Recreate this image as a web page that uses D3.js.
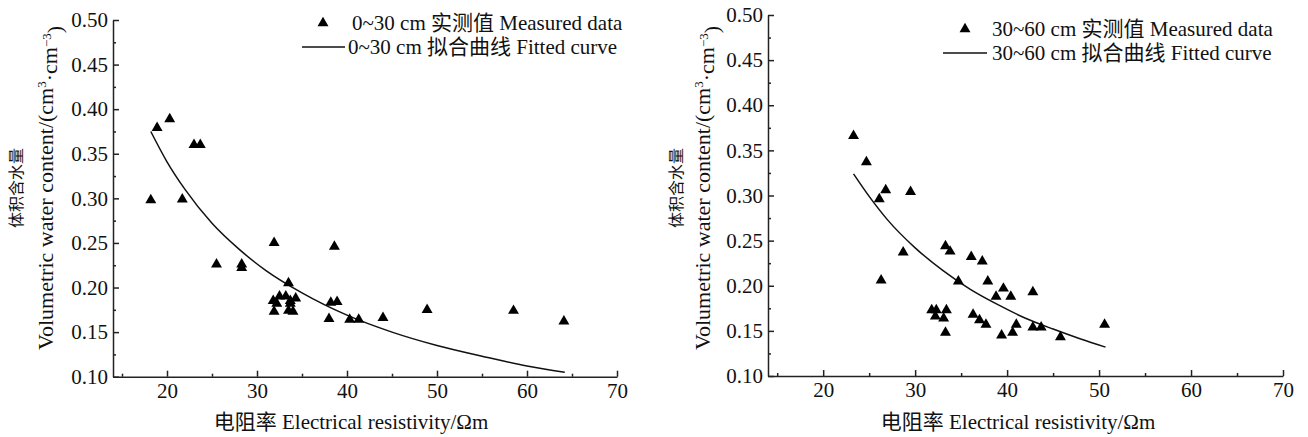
<!DOCTYPE html>
<html><head><meta charset="utf-8">
<script src="https://cdn.jsdelivr.net/npm/d3@7"></script>
<style>
body{margin:0;background:#fff}
svg{display:block}
text{font-family:"Liberation Serif","Times New Roman","Noto Sans CJK SC",serif;fill:#111}
</style></head>
<body><svg id="c" width="1308" height="437"></svg>
<script>
// ---- data ----
const xTicks = [20, 30, 40, 50, 60, 70];
const xMinorTicks = [15, 25, 35, 45, 55, 65];
const yTicks = [0.10, 0.15, 0.20, 0.25, 0.30, 0.35, 0.40, 0.45, 0.50];
const yMinorTicks = [0.125, 0.175, 0.225, 0.275, 0.325, 0.375, 0.425, 0.475];

// 0~30 cm measured
const m1X = [18.2, 18.9, 20.3, 23.0, 23.7, 21.7, 25.5, 28.3, 28.3, 31.9, 38.6, 33.5,
             31.8, 32.2, 32.5, 33.2, 33.7, 34.3, 31.9, 33.5, 34.0, 33.7,
             38.0, 38.2, 38.9, 40.3, 41.3, 44.0, 48.9, 58.5, 64.1];
const m1Y = [0.298, 0.379, 0.389, 0.360, 0.360, 0.299, 0.226, 0.226, 0.222, 0.250, 0.246, 0.205,
             0.185, 0.182, 0.190, 0.190, 0.185, 0.188, 0.173, 0.174, 0.173, 0.182,
             0.165, 0.183, 0.184, 0.164, 0.164, 0.166, 0.175, 0.174, 0.162];
// 0~30 cm fitted curve
const f1X = [18.2, 20, 22, 25, 28, 31, 35, 40, 45, 50, 55, 60, 64.2];
const f1Y = [0.375, 0.341, 0.310, 0.272, 0.243, 0.219, 0.194, 0.169, 0.150, 0.135, 0.123, 0.112, 0.105];

// 30~60 cm measured
const m2X = [23.3, 24.7, 26.8, 26.1, 29.5, 28.7, 26.3, 33.3, 33.8, 36.1, 37.3, 34.7, 37.9,
             39.6, 38.8, 40.4, 42.8, 31.8, 32.3, 33.4, 32.2, 33.1, 33.3, 36.3, 37.0, 37.7,
             39.4, 40.6, 41.0, 42.8, 43.7, 45.8, 50.6];
const m2Y = [0.366, 0.337, 0.306, 0.296, 0.304, 0.237, 0.206, 0.244, 0.238, 0.232, 0.227, 0.205, 0.205,
             0.197, 0.188, 0.188, 0.193, 0.173, 0.173, 0.173, 0.166, 0.164, 0.148, 0.168, 0.162, 0.157,
             0.145, 0.148, 0.157, 0.154, 0.154, 0.143, 0.157];
// 30~60 cm fitted curve
const f2X = [23.3, 25, 27, 30, 33, 36, 39, 42, 45, 48, 50.7];
const f2Y = [0.324, 0.299, 0.273, 0.242, 0.217, 0.196, 0.179, 0.164, 0.152, 0.141, 0.132];

const legend1 = ["0~30 cm 实测值 Measured data", "0~30 cm 拟合曲线 Fitted curve"];
const legend2 = ["30~60 cm 实测值 Measured data", "30~60 cm 拟合曲线 Fitted curve"];
const yTitleCN = "体积含水量";
const xTitle = "电阻率 Electrical resistivity/Ωm";

// ---- drawing ----
const svg = d3.select("#c");
const FS = 21;
const FONT = '"Liberation Serif","Times New Roman","Noto Sans CJK SC",serif';
const axisColor = "#222";

function panel(cfg) {
  const g = svg.append("g");
  const x = d3.scaleLinear().domain([14, 70]).range([cfg.left, cfg.right]);
  const y = d3.scaleLinear().domain([0.10, 0.50]).range([cfg.bottom, cfg.top]);

  // minor ticks
  g.append("g").attr("transform", `translate(0,${cfg.bottom})`)
    .call(d3.axisBottom(x).tickValues(xMinorTicks).tickSizeInner(-3).tickSizeOuter(0).tickFormat(""))
    .call(s => s.select(".domain").remove());
  g.append("g").attr("transform", `translate(${cfg.left},0)`)
    .call(d3.axisLeft(y).tickValues(yMinorTicks).tickSizeInner(-3).tickSizeOuter(0).tickFormat(""))
    .call(s => s.select(".domain").remove());

  // major axes
  const xa = g.append("g").attr("transform", `translate(0,${cfg.bottom})`)
    .call(d3.axisBottom(x).tickValues(xTicks).tickSizeInner(-6).tickSizeOuter(0).tickPadding(6).tickFormat(d3.format("d")));
  const ya = g.append("g").attr("transform", `translate(${cfg.left},0)`)
    .call(d3.axisLeft(y).tickValues(yTicks).tickSizeInner(-6).tickSizeOuter(0).tickPadding(5).tickFormat(d3.format(".2f")));
  [xa, ya].forEach(a => {
    a.attr("font-family", FONT).attr("font-size", FS);
    a.selectAll("text").attr("font-size", FS).attr("font-family", FONT).attr("fill", "#111");
  });
  g.selectAll("line,path.domain").attr("stroke", axisColor).attr("stroke-width", 1.5);

  // fitted curve
  const line = d3.line().x(d => x(d[0])).y(d => y(d[1])).curve(d3.curveMonotoneX);
  g.append("path").datum(d3.zip(cfg.fX, cfg.fY)).attr("d", line)
    .attr("fill", "none").attr("stroke", "#111").attr("stroke-width", 1.5);

  // measured points
  const tri = d3.symbol().type(d3.symbolTriangle).size(52);
  g.selectAll(".pt").data(d3.zip(cfg.mX, cfg.mY)).join("path")
    .attr("transform", d => `translate(${x(d[0])},${y(d[1])})`)
    .attr("d", tri).attr("fill", "#000");

  // legend
  const L = cfg.legend;
  g.append("path").attr("transform", `translate(${L.triX},${L.row1})`).attr("d", tri).attr("fill", "#000");
  g.append("line").attr("x1", L.lineX1).attr("x2", L.lineX2).attr("y1", L.row2).attr("y2", L.row2)
    .attr("stroke", "#111").attr("stroke-width", 1.5);
  g.append("text").attr("x", L.text1X).attr("y", L.row1).attr("dy", "0.35em").attr("font-size", FS).text(cfg.legendText[0]);
  g.append("text").attr("x", L.text2X).attr("y", L.row2).attr("dy", "0.35em").attr("font-size", FS).text(cfg.legendText[1]);

  // y titles
  const cy = cfg.yTitleY;
  g.append("text").attr("transform", `translate(${cfg.yTitle1X},${cy}) rotate(-90)`)
    .attr("text-anchor", "middle").attr("dy", "0.35em").attr("font-size", 16).text(yTitleCN);
  const t2 = g.append("text").attr("transform", `translate(${cfg.yTitle2X},${cy}) rotate(-90)`)
    .attr("text-anchor", "middle").attr("dy", "0.35em").attr("font-size", 22);
  t2.append("tspan").text("Volumetric water content/(cm");
  t2.append("tspan").attr("dy", "-0.5em").attr("font-size", 13).text("3");
  t2.append("tspan").attr("dy", "0.5em").text("·cm");
  t2.append("tspan").attr("dy", "-0.5em").attr("font-size", 13).text("−3");
  t2.append("tspan").attr("dy", "0.5em").text(")");

  // x title
  g.append("text").attr("x", cfg.xTitleX).attr("y", 422).attr("dy", "0.35em")
    .attr("text-anchor", "middle").attr("font-size", FS).text(xTitle);
}

panel({
  left: 113, right: 617, top: 20, bottom: 376.7,
  mX: m1X, mY: m1Y, fX: f1X, fY: f1Y,
  legendText: legend1,
  legend: {triX: 323, row1: 23, row2: 47, lineX1: 302, lineX2: 345, text1X: 352, text2X: 348},
  yTitle1X: 16, yTitle2X: 45, yTitleY: 188, xTitleX: 351
});
panel({
  left: 768, right: 1283, top: 15, bottom: 376,
  mX: m2X, mY: m2Y, fX: f2X, fY: f2Y,
  legendText: legend2,
  legend: {triX: 965, row1: 29, row2: 53, lineX1: 943, lineX2: 987, text1X: 992, text2X: 992},
  yTitle1X: 676, yTitle2X: 702, yTitleY: 188, xTitleX: 1018
});
</script></body></html>
